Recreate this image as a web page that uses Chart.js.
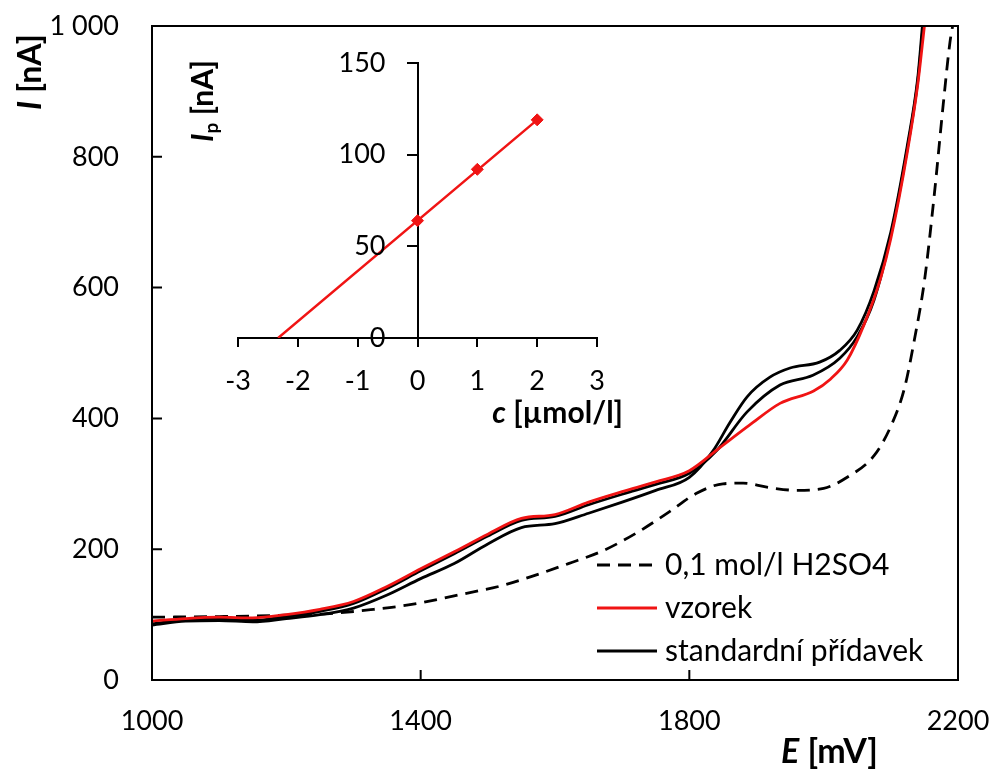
<!DOCTYPE html>
<html>
<head>
<meta charset="utf-8">
<script src="https://cdn.jsdelivr.net/npm/chart.js@4.4.0/dist/chart.umd.min.js"></script>
<style>
    body { margin: 0; background: #fff; }
    #wrap { position: relative; width: 992px; height: 769px; }
    #mainChart { position: absolute; left: 0; top: 0; }
    #insetChart { position: absolute; left: 150px; top: 30px; }
</style>
</head>
<body>
<div id="wrap">
    <canvas id="mainChart" width="992" height="769"></canvas>
    <canvas id="insetChart" width="480" height="420"></canvas>
</div>
<script>
const FONT = 'Lato';
const RED = '#f01414';

// main voltammograms: E [mV] vs I [nA]
const blankE = [1000, 1100, 1200, 1270, 1330, 1370, 1400, 1470, 1520, 1570, 1620, 1670, 1720, 1770, 1810, 1850, 1880, 1920, 1960, 2000, 2035, 2075, 2100, 2120, 2135, 2150, 2165, 2178, 2188, 2192];
const blankI = [96, 97, 99, 102, 108, 113, 118, 133, 144, 160, 178, 197, 224, 257, 285, 300, 301, 294, 290, 293, 310, 343, 388, 445, 520, 610, 745, 880, 975, 1000];

const sampleE = [1000, 1050, 1100, 1150, 1200, 1250, 1300, 1350, 1400, 1450, 1500, 1550, 1600, 1650, 1700, 1750, 1800, 1845, 1890, 1935, 1985, 2010, 2035, 2060, 2085, 2100, 2125, 2140, 2150];
const sampleI = [90, 94, 96, 95, 100, 108, 120, 143, 170, 196, 223, 247, 253, 272, 288, 303, 320, 355, 390, 423, 442, 460, 489, 543, 615, 675, 810, 910, 1000];

const add1E = [1000, 1050, 1100, 1150, 1200, 1250, 1300, 1350, 1400, 1450, 1500, 1550, 1600, 1650, 1700, 1750, 1800, 1840, 1886, 1935, 1984, 2024, 2050, 2075, 2100, 2125, 2140, 2148];
const add1I = [86, 92, 93, 91, 97, 105, 117, 140, 167, 193, 220, 244, 250, 268, 284, 299, 316, 350, 410, 451, 466, 492, 525, 581, 680, 815, 915, 1000];

const add2E = [1000, 1050, 1100, 1150, 1200, 1250, 1300, 1350, 1400, 1450, 1500, 1550, 1600, 1650, 1700, 1750, 1800, 1835, 1860, 1886, 1920, 1950, 1994, 2024, 2050, 2075, 2100, 2125, 2140, 2147];
const add2I = [84, 90, 91, 89, 94, 100, 110, 130, 155, 178, 208, 233, 239, 255, 272, 290, 310, 350, 393, 433, 463, 477, 486, 504, 535, 595, 685, 820, 920, 1000];

const xTicks = [1000, 1400, 1800, 2200];
const yTicks = [0, 200, 400, 600, 800, 1000];
const legendLabels = ['0,1 mol/l H2SO4', 'vzorek', 'standardní přídavek'];

// inset: standard addition plot
const conc = [0, 1, 2];
const peakI = [64, 92, 119];
const fitC = [-2.33, 2];
const fitI = [0, 119];
const cTicks = [-3, -2, -1, 0, 1, 2, 3];
const ipTicks = [0, 50, 100, 150];

const toXY = (xs, ys) => xs.map((x, i) => ({ x, y: ys[i] }));
const setTicks = list => scale => { scale.ticks = list.map(v => ({ value: v })); };
const noPad = s => { s.paddingTop = s.paddingBottom = s.paddingLeft = s.paddingRight = 0; };

function drawParts(ctx, parts, x, y, align) {
    let total = 0;
    parts.forEach(([t, f]) => { ctx.font = f; total += ctx.measureText(t).width; });
    let cx = align === 'right' ? x - total : align === 'center' ? x - total / 2 : x;
    ctx.textAlign = 'left';
    ctx.textBaseline = 'middle';
    parts.forEach(([t, f, dy]) => {
        ctx.font = f;
        ctx.fillText(t, cx, y + (dy || 0));
        cx += ctx.measureText(t).width;
    });
}

const mainDecor = {
    id: 'mainDecor',
    afterDraw(chart) {
        const { ctx, chartArea: a, scales: { x, y } } = chart;
        ctx.save();
        ctx.strokeStyle = '#000';
        ctx.fillStyle = '#000';
        ctx.lineWidth = 2;
        ctx.strokeRect(a.left, a.top, a.right - a.left, a.bottom - a.top);

        // inward tick marks
        ctx.beginPath();
        yTicks.slice(1, -1).forEach(v => {
            const py = y.getPixelForValue(v);
            ctx.moveTo(a.left, py);
            ctx.lineTo(a.left + 10, py);
        });
        xTicks.slice(1, -1).forEach(v => {
            const px = x.getPixelForValue(v);
            ctx.moveTo(px, a.bottom);
            ctx.lineTo(px, a.bottom - 10);
        });
        ctx.stroke();

        // legend
        const rows = [
            { ds: chart.data.datasets[3], y: 565 },
            { ds: chart.data.datasets[0], y: 608 },
            { ds: chart.data.datasets[1], y: 651 }
        ];
        rows.forEach((r, i) => {
            ctx.beginPath();
            ctx.strokeStyle = r.ds.borderColor;
            ctx.lineWidth = 2.8;
            ctx.setLineDash(r.ds.borderDash || []);
            ctx.moveTo(597, r.y);
            ctx.lineTo(657, r.y);
            ctx.stroke();
            ctx.setLineDash([]);
            ctx.fillStyle = '#000';
            drawParts(ctx, [[legendLabels[i], `30px ${FONT}`]], 665, r.y, 'left');
        });

        // axis titles
        drawParts(ctx, [['E', `italic bold 34px ${FONT}`], [' [mV]', `bold 34px ${FONT}`]], 878, 752, 'right');
        ctx.save();
        ctx.translate(31, 72);
        ctx.rotate(-Math.PI / 2);
        drawParts(ctx, [['I', `italic bold 32px ${FONT}`], [' [nA]', `bold 32px ${FONT}`]], 0, 0, 'center');
        ctx.restore();
        ctx.restore();
    }
};

new Chart(document.getElementById('mainChart'), {
    type: 'line',
    data: {
        datasets: [
            { label: legendLabels[1], data: toXY(sampleE, sampleI), borderColor: RED },
            { label: legendLabels[2], data: toXY(add1E, add1I), borderColor: '#000' },
            { label: legendLabels[2], data: toXY(add2E, add2I), borderColor: '#000' },
            { label: legendLabels[0], data: toXY(blankE, blankI), borderColor: '#000', borderDash: [13, 8] }
        ]
    },
    options: {
        responsive: false,
        animation: false,
        layout: { padding: { top: 26, right: 34, left: 0, bottom: 0 } },
        elements: {
            point: { radius: 0 },
            line: { borderWidth: 2.8, cubicInterpolationMode: 'monotone', fill: false }
        },
        plugins: { legend: { display: false }, tooltip: { enabled: false } },
        scales: {
            x: {
                type: 'linear', min: 1000, max: 2200,
                afterBuildTicks: setTicks(xTicks),
                afterFit: s => { s.height = 89; noPad(s); },
                grid: { display: false, drawTicks: false }, border: { display: false },
                ticks: {
                    color: '#000', padding: 25, maxRotation: 0, font: { family: FONT, size: 27 },
                    callback: v => String(v)
                }
            },
            y: {
                type: 'linear', min: 0, max: 1000,
                afterBuildTicks: setTicks(yTicks),
                afterFit: s => { s.width = 152; noPad(s); },
                grid: { display: false, drawTicks: false }, border: { display: false },
                ticks: {
                    color: '#000', padding: 33, font: { family: FONT, size: 27 },
                    callback: v => v === 1000 ? '1 000' : String(v)
                }
            }
        }
    },
    plugins: [mainDecor]
});

const insetDecor = {
    id: 'insetDecor',
    afterDraw(chart) {
        const { ctx, scales: { x, y } } = chart;
        ctx.save();
        ctx.fillStyle = '#000';
        // y tick labels, left of the axis that sits at c = 0
        const axisX = x.getPixelForValue(0);
        ctx.font = `27px ${FONT}`;
        ctx.textAlign = 'right';
        ctx.textBaseline = 'middle';
        ipTicks.forEach(v => ctx.fillText(String(v), axisX - 32, y.getPixelForValue(v)));

        drawParts(ctx, [['c', `italic bold 30px ${FONT}`], [' [µmol/l]', `bold 30px ${FONT}`]], 473, 383, 'right');
        ctx.translate(53, 71);
        ctx.rotate(-Math.PI / 2);
        drawParts(ctx, [['I', `italic bold 30px ${FONT}`], ['p', `bold 19px ${FONT}`, 9], [' [nA]', `bold 30px ${FONT}`]], 0, 0, 'center');
        ctx.restore();
    }
};

new Chart(document.getElementById('insetChart'), {
    type: 'scatter',
    data: {
        datasets: [
            {
                data: toXY(conc, peakI), pointStyle: 'rectRot', pointRadius: 6,
                backgroundColor: RED, borderColor: RED, showLine: false
            },
            {
                data: toXY(fitC, fitI), showLine: true, pointRadius: 0,
                borderColor: RED, borderWidth: 2.5
            }
        ]
    },
    options: {
        responsive: false,
        animation: false,
        layout: { padding: { left: 88, top: 33, right: 33, bottom: 112 } },
        plugins: { legend: { display: false }, tooltip: { enabled: false } },
        scales: {
            x: {
                type: 'linear', min: -3, max: 3,
                position: { y: 0 },
                afterBuildTicks: setTicks(cTicks),
                afterFit: noPad,
                grid: { drawOnChartArea: false, drawTicks: true, tickLength: 8, color: '#000', lineWidth: 2 },
                border: { display: true, color: '#000', width: 2 },
                ticks: { color: '#000', padding: 19, maxRotation: 0, font: { family: FONT, size: 27 } }
            },
            y: {
                type: 'linear', min: 0, max: 150,
                position: { x: 0 },
                afterBuildTicks: setTicks(ipTicks),
                afterFit: noPad,
                grid: { drawOnChartArea: false, drawTicks: true, tickLength: 10, color: '#000', lineWidth: 2 },
                border: { display: true, color: '#000', width: 2 },
                ticks: { display: false }
            }
        }
    },
    plugins: [insetDecor]
});
</script>
</body>
</html>
